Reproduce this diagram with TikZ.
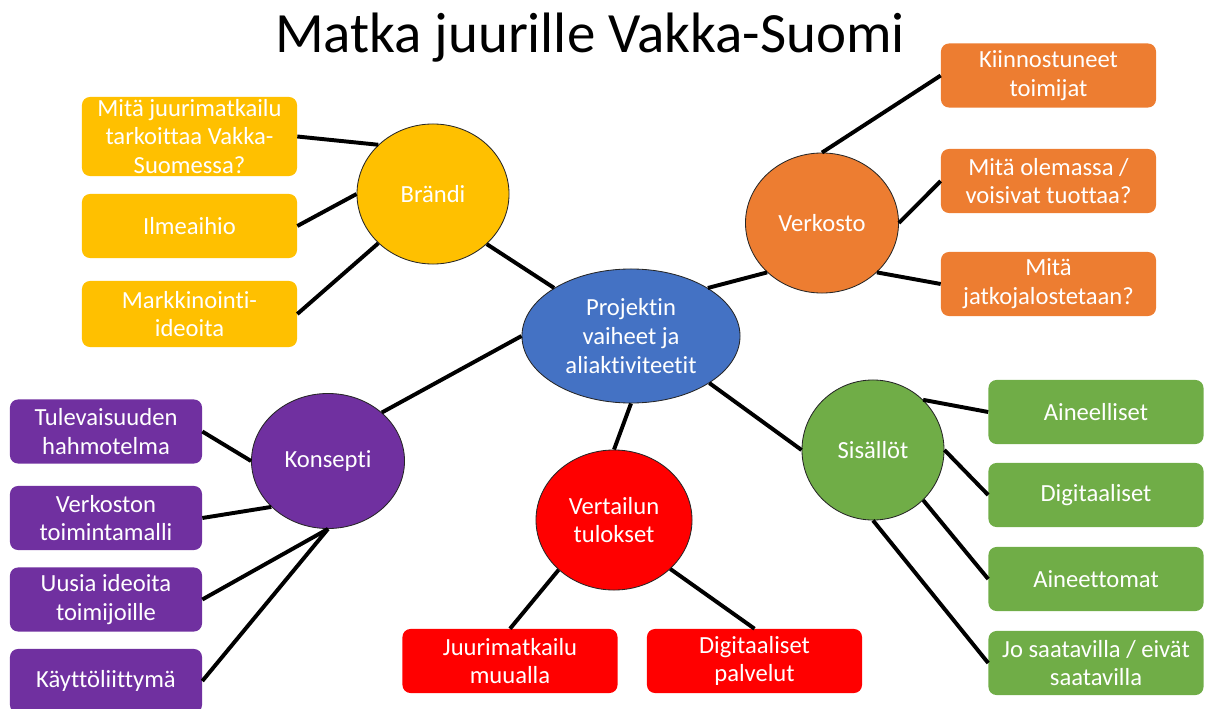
\documentclass[tikz,border=0pt]{standalone}
\usepackage{fontspec}
\setmainfont{Carlito}[Ligatures=NoCommon]
\usetikzlibrary{shapes.geometric}

\definecolor{keltainen}{HTML}{FFC000}
\definecolor{oranssi}{HTML}{ED7D31}
\definecolor{sininen}{HTML}{4472C4}
\definecolor{violetti}{HTML}{7030A0}
\definecolor{punainen}{HTML}{FF0000}
\definecolor{vihrea}{HTML}{70AD47}

\tikzset{
	leaf/.style={rectangle, rounded corners=0.2cm, fill=#1, text=white, align=center,
		minimum width=5.375cm, minimum height=1.6cm, inner sep=0pt,
		font=\fontsize{17.5}{20.5}\selectfont},
	hub/.style={ellipse, draw=black!85, line width=0.6pt, fill=#1, text=white, align=center,
		inner sep=0pt, font=\fontsize{17.5}{20.5}\selectfont},
	link/.style={line width=2.8pt}
}

\begin{document}
\begin{tikzpicture}[x=0.025cm, y=-0.025cm]
	\useasboundingbox (0,0) rectangle (1208,709);
	\node[font=\fontsize{40.5}{48}\selectfont, anchor=base] (title) at (590,53) {Matka juurille Vakka-Suomi};
	
	% keskus ja aiheet
	\node[hub=sininen, minimum width=5.45cm, minimum height=3.35cm] (projekti) at (631,336) {Projektin\\vaiheet ja\\aliaktiviteetit};
	\node[hub=keltainen, minimum width=3.8cm, minimum height=3.5cm] (brandi) at (433,194) {Brändi};
	\node[hub=oranssi, minimum width=3.825cm, minimum height=3.5cm] (verkosto) at (822,223) {Verkosto};
	\node[hub=violetti, minimum width=3.825cm, minimum height=3.375cm] (konsepti) at (328,461) {Konsepti};
	\node[hub=punainen, minimum width=3.9cm, minimum height=3.5cm] (vertailu) at (614,520) {Vertailun\\tulokset};
	\node[hub=vihrea, minimum width=3.55cm, minimum height=3.5cm] (sisallot) at (873,450) {Sisällöt};
	
	% Brändi
	\node[leaf=keltainen, minimum height=1.975cm] (b1) at (189.5,136.5) {Mitä juurimatkailu\\tarkoittaa Vakka-\\Suomessa?};
	\node[leaf=keltainen] (b2) at (189.5,226) {Ilmeaihio};
	\node[leaf=keltainen, minimum height=1.65cm] (b3) at (189.5,314) {Markkinointi-\\ideoita};
	
	% Verkosto
	\node[leaf=oranssi] (v1) at (1048.5,75.5) {Kiinnostuneet\\toimijat};
	\node[leaf=oranssi] (v2) at (1048.5,181) {Mitä olemassa /\\voisivat tuottaa?};
	\node[leaf=oranssi] (v3) at (1048.5,284) {Mitä\\jatkojalostetaan?};
	
	% Konsepti
	\node[leaf=violetti, minimum width=4.8cm] (k1) at (106,431.5) {Tulevaisuuden\\hahmotelma};
	\node[leaf=violetti, minimum width=4.8cm] (k2) at (106,518) {Verkoston\\toimintamalli};
	\node[leaf=violetti, minimum width=4.8cm] (k3) at (106,599.5) {Uusia ideoita\\toimijoille};
	\node[leaf=violetti, minimum width=4.8cm] (k4) at (106,681) {Käyttöliittymä};
	
	% Vertailun tulokset
	\node[leaf=punainen] (t1) at (510,661) {Juurimatkailu\\muualla};
	\node[leaf=punainen] (t2) at (754.5,661) {Digitaaliset\\palvelut};
	
	% Sisällöt
	\node[leaf=vihrea] (s1) at (1096,412) {Aineelliset};
	\node[leaf=vihrea] (s2) at (1096,495) {Digitaaliset};
	\node[leaf=vihrea] (s3) at (1096,579) {Aineettomat};
	\node[leaf=vihrea] (s4) at (1096,663) {Jo saatavilla / eivät\\saatavilla};
	
	\draw[link] (projekti.148) -- (brandi.-43);
	\draw[link] (projekti.32) -- (verkosto.222);
	\draw[link] (projekti.180) -- (konsepti.42);
	\draw[link] (projekti.-90) -- (vertailu.90);
	\draw[link] (projekti.-31) -- (sisallot.180);
	
	\draw[link] (b1.east) -- (brandi.138);
	\draw[link] (b2.east) -- (brandi.180);
	\draw[link] (b3.east) -- (brandi.222);
	
	\draw[link] (v1.west) -- (verkosto.90);
	\draw[link] (v2.west) -- (verkosto.0);
	\draw[link] (v3.west) -- (verkosto.-42);
	
	\draw[link] (k1.east) -- (konsepti.180);
	\draw[link] (k2.east) -- (konsepti.219);
	\draw[link] (k3.east) -- (konsepti.-90);
	\draw[link] (k4.east) -- (konsepti.-90);
	
	\draw[link] (t1.north) -- (vertailu.222);
	\draw[link] (t2.north) -- (vertailu.-41);
	
	\draw[link] (s1.west) -- (sisallot.45);
	\draw[link] (s2.west) -- (sisallot.0);
	\draw[link] (s3.west) -- (sisallot.-45);
	\draw[link] (s4.west) -- (sisallot.-90);
\end{tikzpicture}
\end{document}
